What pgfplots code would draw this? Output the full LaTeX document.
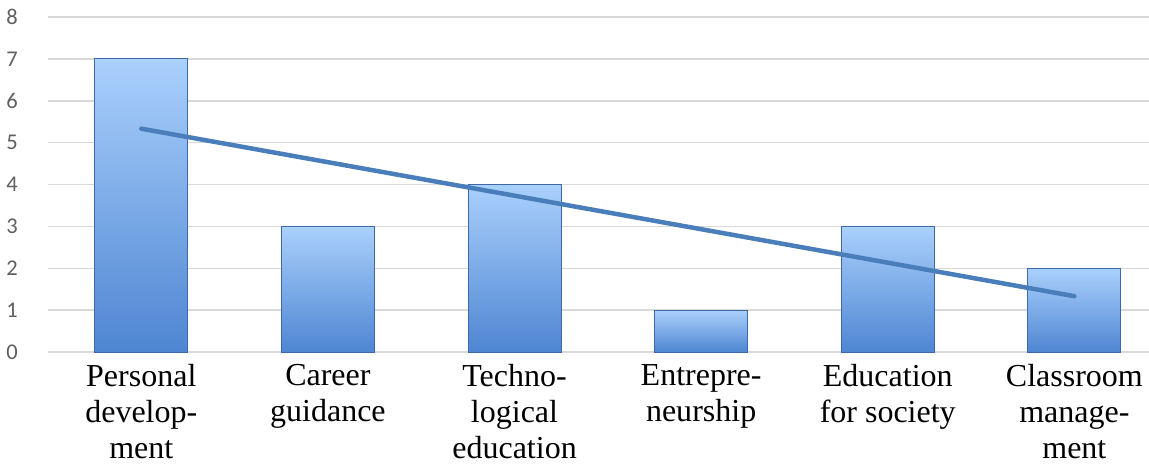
\documentclass[border=0pt]{standalone}
\usepackage{fontspec}
\setmainfont{Liberation Serif}
\newfontfamily\ticksans{Carlito}
\usepackage{pgfplots}
\pgfplotsset{compat=1.18}
\definecolor{gridgray}{RGB}{217,217,217}
\definecolor{ticktext}{RGB}{95,95,95}
\definecolor{bartop}{RGB}{170,208,252}
\definecolor{barmid}{RGB}{142,188,244}
\definecolor{barbot}{RGB}{78,134,210}
\definecolor{baredge}{RGB}{62,104,170}
\definecolor{trendblue}{RGB}{74,126,187}
\pgfplotsset{
  gradbar/.style={ybar, bar width=93bp, bar shift=0pt, draw=baredge, line width=1bp,
    top color=bartop, middle color=barmid, bottom color=barbot},
}
\begin{document}
\begin{tikzpicture}
\begin{axis}[
  name=ax,
  scale only axis,
  width=1101bp, height=335bp,
  xmin=-0.5, xmax=5.4,
  ymin=0, ymax=8,
  ytick={0,1,...,8},
  xtick={0,1,2,3,4,5},
  xticklabels={{Personal\\develop-\\ment},{Career\\guidance},{Techno-\\logical\\education},{Entrepre-\\neurship},{Education\\for society},{Classroom\\manage-\\ment}},
  xticklabel style={align=center, font=\fontsize{32bp}{36bp}\selectfont, anchor=north, yshift=-9bp},
  yticklabel style={font=\ticksans\fontsize{22.5bp}{26bp}\selectfont, text=ticktext, anchor=center, xshift=-36bp},
  /pgf/number format/assume math mode=true,
  ymajorgrids,
  grid style={gridgray, line width=1.5bp},
  axis line style={draw=none},
  major tick length=0pt,
  clip=false,
]
% one plot per category, so that each bar carries its own gradient
\addplot[gradbar] coordinates {(0,7)};
\addplot[gradbar] coordinates {(1,3)};
\addplot[gradbar] coordinates {(2,4)};
\addplot[gradbar] coordinates {(3,1)};
\addplot[gradbar] coordinates {(4,3)};
\addplot[gradbar] coordinates {(5,2)};
% linear trend of the six counts
\addplot[trendblue, line width=4.5bp, line cap=round]
  coordinates {(0,5.333) (5,1.333)};
\end{axis}
\pgfresetboundingbox
\path[use as bounding box] ([xshift=-48bp,yshift=-115bp]ax.south west) rectangle ([yshift=17bp]ax.north east);
\end{tikzpicture}
\end{document}
